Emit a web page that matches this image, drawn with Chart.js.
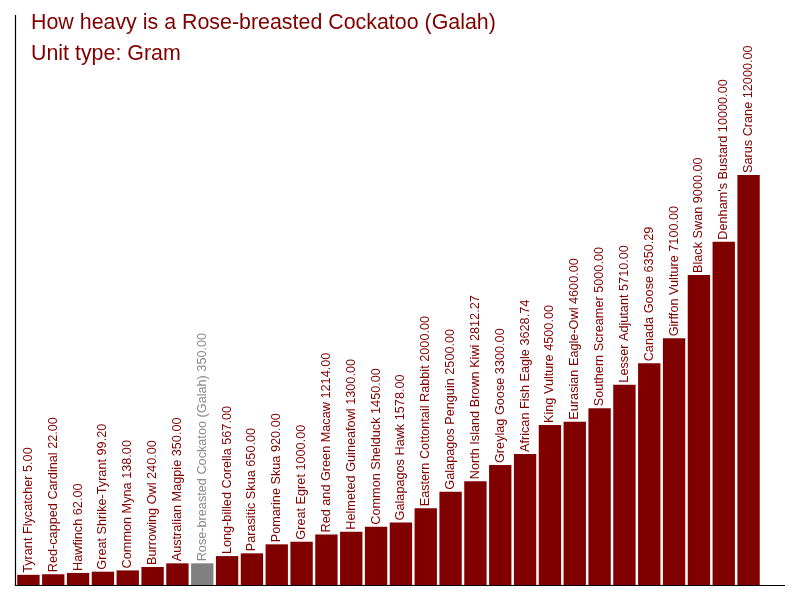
<!DOCTYPE html>
<html>
<head>
    <title>Rose-breasted Cockatoo weight</title>
    <script src="https://cdn.jsdelivr.net/npm/chart.js"></script>
    <style>
        body { margin: 0; background: #fff; }
        #wrap { width: 800px; height: 600px; }
    </style>
</head>
<body>
<div id="wrap"><canvas id="myChart" width="800" height="600"></canvas></div>
<script>
const titleText = 'How heavy is a Rose-breasted Cockatoo (Galah)';
const subtitleText = 'Unit type: Gram';

const birds = [
    'Tyrant Flycatcher', 'Red-capped Cardinal', 'Hawfinch', 'Great Shrike-Tyrant',
    'Common Myna', 'Burrowing Owl', 'Australian Magpie', 'Rose-breasted Cockatoo (Galah)',
    'Long-billed Corella', 'Parasitic Skua', 'Pomarine Skua', 'Great Egret',
    'Red and Green Macaw', 'Helmeted Guineafowl', 'Common Shelduck', 'Galapagos Hawk',
    'Eastern Cottontail Rabbit', 'Galapagos Penguin', 'North Island Brown Kiwi', 'Greylag Goose',
    'African Fish Eagle', 'King Vulture', 'Eurasian Eagle-Owl', 'Southern Screamer',
    'Lesser Adjutant', 'Canada Goose', 'Girffon Vulture', 'Black Swan',
    "Denham's Bustard", 'Sarus Crane'
];
const weights = [
    5, 22, 62, 99.2,
    138, 240, 350, 350,
    567, 650, 920, 1000,
    1214, 1300, 1450, 1578,
    2000, 2500, 2812.27, 3300,
    3628.74, 4500, 4600, 5000,
    5710, 6350.29, 7100, 9000,
    10000, 12000
];
const highlight = 'Rose-breasted Cockatoo (Galah)';

const red = '#800000';
const grey = '#808080';
const barColors = birds.map(b => b === highlight ? grey : red);
const labelColors = birds.map(b => b === highlight ? '#8a8a8a' : red);

const overlay = {
    id: 'overlay',
    afterDatasetsDraw(chart) {
        const ctx = chart.ctx;
        const area = chart.chartArea;
        ctx.save();
        // axis lines
        ctx.strokeStyle = '#000';
        ctx.lineWidth = 1.2;
        ctx.beginPath();
        ctx.moveTo(15.5, area.top);
        ctx.lineTo(15.5, area.bottom + 0.5);
        ctx.lineTo(785, area.bottom + 0.5);
        ctx.stroke();
        // bar labels
        const meta = chart.getDatasetMeta(0);
        ctx.font = '12.7px "Liberation Sans", Arial, sans-serif';
        ctx.textAlign = 'left';
        ctx.textBaseline = 'middle';
        meta.data.forEach((bar, i) => {
            ctx.save();
            ctx.translate(bar.x, bar.y - 2);
            ctx.rotate(-Math.PI / 2);
            ctx.fillStyle = labelColors[i];
            ctx.fillText(birds[i] + ' ' + weights[i].toFixed(2), 0, 0);
            ctx.restore();
        });
        // titles
        ctx.fillStyle = red;
        ctx.font = '21.4px "Liberation Sans", Arial, sans-serif';
        ctx.textBaseline = 'alphabetic';
        ctx.fillText(titleText, 31, 29);
        ctx.fillText(subtitleText, 31, 60);
        ctx.restore();
    }
};

const ctx = document.getElementById('myChart').getContext('2d');
new Chart(ctx, {
    type: 'bar',
    data: {
        labels: birds,
        datasets: [{
            data: weights,
            backgroundColor: barColors,
            borderWidth: 0,
            base: -300,
            categoryPercentage: 1,
            barPercentage: 0.9
        }]
    },
    options: {
        responsive: false,
        animation: false,
        layout: { padding: { top: 15, bottom: 15, left: 16, right: 39 } },
        plugins: { legend: { display: false }, tooltip: { enabled: false } },
        scales: {
            x: { display: false },
            y: { display: false, min: -300, max: 16800 }
        }
    },
    plugins: [overlay]
});
</script>
</body>
</html>
